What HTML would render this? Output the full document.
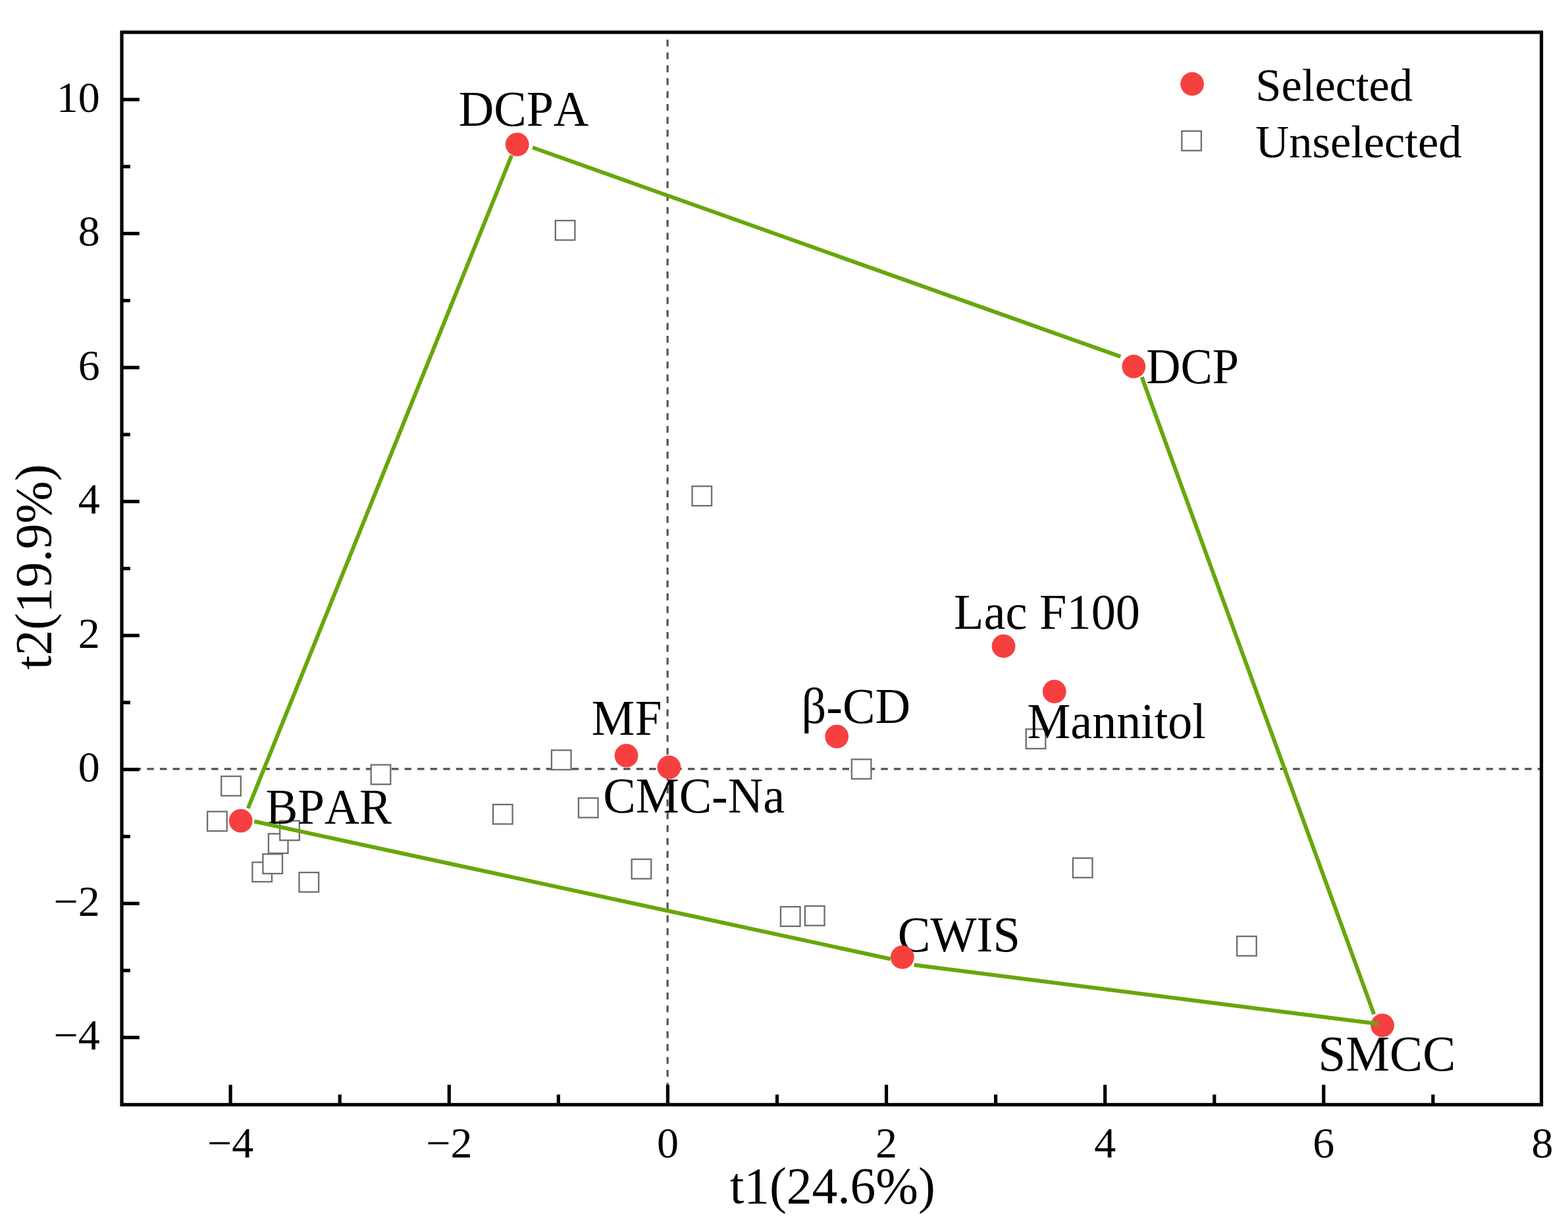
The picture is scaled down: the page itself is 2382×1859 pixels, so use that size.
<!DOCTYPE html>
<html lang="en"><head><meta charset="utf-8"><title>Score plot t1 vs t2</title>
<style>html,body{margin:0;padding:0;background:#fff}body{width:2382px;height:1859px;overflow:hidden}svg{display:block}text{font-family:"Liberation Serif","DejaVu Serif",serif;fill:#000;font-kerning:none}</style></head><body>
<svg width="2382" height="1859" viewBox="0 0 2382 1859">
<rect width="2382" height="1859" fill="#fff"/>
<g stroke="#505050" stroke-width="3.1" fill="none" stroke-dasharray="10.4 9.16">
<line x1="184.24" y1="1167.9" x2="2341.6" y2="1167.9"/>
<line x1="1014.1" y1="49.00" x2="1014.1" y2="1677.8" stroke-dashoffset="8.4"/>
</g>
<g fill="#fff" stroke="#6e6e6e" stroke-width="2.3">
<rect x="843.8" y="335.0" width="29.6" height="29.6"/>
<rect x="1051.5" y="738.5" width="29.6" height="29.6"/>
<rect x="837.9" y="1139.4" width="29.6" height="29.6"/>
<rect x="1293.8" y="1153.3" width="29.6" height="29.6"/>
<rect x="1558.7" y="1107.4" width="29.6" height="29.6"/>
<rect x="878.9" y="1212.1" width="29.6" height="29.6"/>
<rect x="336.2" y="1179.0" width="29.6" height="29.6"/>
<rect x="563.7" y="1161.6" width="29.6" height="29.6"/>
<rect x="749.0" y="1221.9" width="29.6" height="29.6"/>
<rect x="315.1" y="1232.6" width="29.6" height="29.6"/>
<rect x="454.5" y="1325.1" width="29.6" height="29.6"/>
<rect x="383.4" y="1309.6" width="29.6" height="29.6"/>
<rect x="399.4" y="1297.2" width="29.6" height="29.6"/>
<rect x="407.9" y="1266.3" width="29.6" height="29.6"/>
<rect x="425.2" y="1246.6" width="29.6" height="29.6"/>
<rect x="959.6" y="1305.0" width="29.6" height="29.6"/>
<rect x="1185.9" y="1377.2" width="29.6" height="29.6"/>
<rect x="1222.9" y="1376.1" width="29.6" height="29.6"/>
<rect x="1629.9" y="1303.3" width="29.6" height="29.6"/>
<rect x="1879.1" y="1422.1" width="29.6" height="29.6"/>
</g>
<g font-size="75.5">
<text transform="translate(696.7,190.8) scale(0.9815,1)">DCPA</text>
<text transform="translate(1741.2,581.5) scale(0.9580,1)">DCP</text>
<text transform="translate(1449.1,955.4) scale(0.9849,1)">Lac F100</text>
<text transform="translate(1560.6,1120.6) scale(0.9795,1)">Mannitol</text>
<text transform="translate(1217.5,1097.9) scale(0.9825,1)">β-CD</text>
<text transform="translate(898.8,1115.6) scale(0.9771,1)">MF</text>
<text transform="translate(916.3,1233.6) scale(0.9820,1)">CMC-Na</text>
<text transform="translate(403.5,1251.3) scale(0.9700,1)">BPAR</text>
<text transform="translate(1363.7,1445.4) scale(0.9862,1)">CWIS</text>
<text transform="translate(2002.5,1625.8) scale(0.9951,1)">SMCC</text>
</g>
<g fill="#f64040">
<circle cx="785.7" cy="219.4" r="17.9"/>
<circle cx="1722.3" cy="556.7" r="17.9"/>
<circle cx="1524.5" cy="981.3" r="17.9"/>
<circle cx="1601.8" cy="1050.3" r="17.9"/>
<circle cx="1271.2" cy="1118.6" r="17.9"/>
<circle cx="951.5" cy="1147.6" r="17.9"/>
<circle cx="1016.4" cy="1165.4" r="17.9"/>
<circle cx="365.7" cy="1246.6" r="17.9"/>
<circle cx="1370.8" cy="1453.8" r="17.9"/>
<circle cx="2100.1" cy="1557.3" r="17.9"/>
</g>
<g stroke="#67a70b" stroke-width="6.0" fill="none">
<line x1="809.0" y1="224.0" x2="1702.3" y2="541.7"/>
<line x1="1734.5" y1="572.6" x2="2087.3" y2="1540.5"/>
<line x1="1388.5" y1="1465.6" x2="2093.8" y2="1555.1"/>
<line x1="386.3" y1="1247.5" x2="1352.8" y2="1456.5"/>
<line x1="376.8" y1="1227.7" x2="777.2" y2="236.2"/>
</g>
<g stroke="#000" fill="none" stroke-width="5.2">
<rect x="185.0" y="49.0" width="2156.6" height="1628.8"/>
</g><g stroke="#000" stroke-width="5.2">
<line x1="350.1" y1="1677.8" x2="350.1" y2="1647.6"/>
<line x1="516.2" y1="1677.8" x2="516.2" y2="1662.4"/>
<line x1="682.3" y1="1677.8" x2="682.3" y2="1647.6"/>
<line x1="848.3" y1="1677.8" x2="848.3" y2="1662.4"/>
<line x1="1014.4" y1="1677.8" x2="1014.4" y2="1647.6"/>
<line x1="1180.5" y1="1677.8" x2="1180.5" y2="1662.4"/>
<line x1="1346.5" y1="1677.8" x2="1346.5" y2="1647.6"/>
<line x1="1512.6" y1="1677.8" x2="1512.6" y2="1662.4"/>
<line x1="1678.7" y1="1677.8" x2="1678.7" y2="1647.6"/>
<line x1="1844.8" y1="1677.8" x2="1844.8" y2="1662.4"/>
<line x1="2010.8" y1="1677.8" x2="2010.8" y2="1647.6"/>
<line x1="2176.9" y1="1677.8" x2="2176.9" y2="1662.4"/>
<line x1="185.0" y1="1575.7" x2="211.8" y2="1575.7"/>
<line x1="185.0" y1="1474.0" x2="197.8" y2="1474.0"/>
<line x1="185.0" y1="1372.2" x2="211.8" y2="1372.2"/>
<line x1="185.0" y1="1270.5" x2="197.8" y2="1270.5"/>
<line x1="185.0" y1="1168.7" x2="211.8" y2="1168.7"/>
<line x1="185.0" y1="1067.0" x2="197.8" y2="1067.0"/>
<line x1="185.0" y1="965.2" x2="211.8" y2="965.2"/>
<line x1="185.0" y1="863.5" x2="197.8" y2="863.5"/>
<line x1="185.0" y1="761.7" x2="211.8" y2="761.7"/>
<line x1="185.0" y1="660.0" x2="197.8" y2="660.0"/>
<line x1="185.0" y1="558.2" x2="211.8" y2="558.2"/>
<line x1="185.0" y1="456.5" x2="197.8" y2="456.5"/>
<line x1="185.0" y1="354.7" x2="211.8" y2="354.7"/>
<line x1="185.0" y1="253.0" x2="197.8" y2="253.0"/>
<line x1="185.0" y1="151.2" x2="211.8" y2="151.2"/>
</g>
<g font-size="66">
<text x="350.1" y="1757.7" text-anchor="middle">−4</text>
<text x="682.3" y="1757.7" text-anchor="middle">−2</text>
<text x="1014.4" y="1757.7" text-anchor="middle">0</text>
<text x="1346.5" y="1757.7" text-anchor="middle">2</text>
<text x="1678.7" y="1757.7" text-anchor="middle">4</text>
<text x="2010.8" y="1757.7" text-anchor="middle">6</text>
<text x="2343.0" y="1757.7" text-anchor="middle">8</text>
<text x="151.8" y="1594.3" text-anchor="end">−4</text>
<text x="151.8" y="1390.8" text-anchor="end">−2</text>
<text x="151.8" y="1187.3" text-anchor="end">0</text>
<text x="151.8" y="983.8" text-anchor="end">2</text>
<text x="151.8" y="780.3" text-anchor="end">4</text>
<text x="151.8" y="576.8" text-anchor="end">6</text>
<text x="151.8" y="373.3" text-anchor="end">8</text>
<text x="151.8" y="169.8" text-anchor="end">10</text>
</g>
<text x="1264.7" y="1827.3" font-size="77.5" text-anchor="middle">t1(24.6%)</text>
<text transform="translate(77.0,861.0) rotate(-90)" font-size="77.5" text-anchor="middle">t2(19.9%)</text>
<circle cx="1811.1" cy="127.5" r="17.9" fill="#f64040"/>
<rect x="1795.3" y="199.1" width="29.6" height="29.6" fill="#fff" stroke="#6e6e6e" stroke-width="2.3"/>
<text x="1907.3" y="152.6" font-size="70.5">Selected</text>
<text x="1907.3" y="238.6" font-size="70.5">Unselected</text>
</svg></body></html>
